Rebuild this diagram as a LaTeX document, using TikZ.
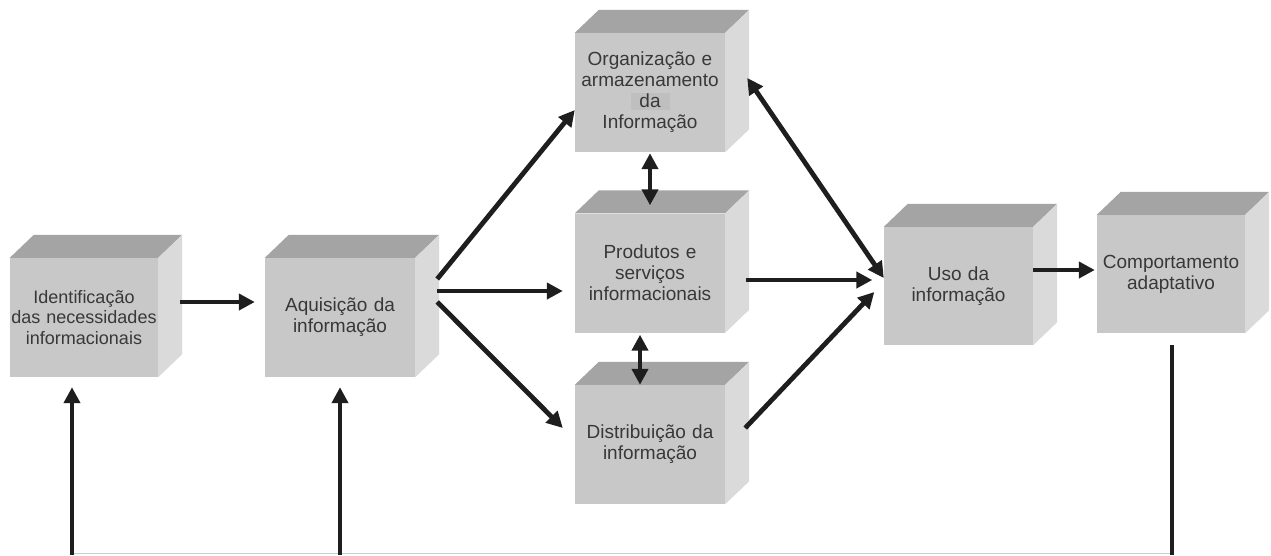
\documentclass[tikz,border=0pt]{standalone}
\usepackage{fontspec}
\setmainfont{Liberation Sans}
\usetikzlibrary{arrows.meta,calc}
\definecolor{frontc}{HTML}{C8C8C8}
\definecolor{topc}{HTML}{A4A4A4}
\definecolor{sidec}{HTML}{DADADA}
\definecolor{txtc}{HTML}{383838}
\definecolor{arrc}{HTML}{1E1E1E}
\definecolor{basec}{HTML}{CDCDCD}
\definecolor{dahl}{HTML}{BFBFBF}
\begin{document}
\begin{tikzpicture}[x=1pt,y=-1pt,
  cube/.style={rectangle, fill=frontc, minimum width=150pt, minimum height=119pt,
    inner sep=0pt, text width=140pt, align=center, text=txtc,
    font=\fontsize{19}{21}\selectfont},
  arr/.style={draw=arrc, line width=4.8pt, -{Triangle[length=16pt,width=16pt]}},
  darr/.style={draw=arrc, line width=4.8pt,
    {Triangle[length=16pt,width=16pt]}-{Triangle[length=16pt,width=16pt]}},
  baseline/.style={draw=basec, line width=1.4pt}]
\useasboundingbox (0,0) rectangle (1271,555);
\fill[white] (0,0) rectangle (1271,555);

\node[cube, minimum width=148pt, font=\fontsize{18}{20.5}\selectfont] (b1) at (84,317.5) {Identificação\\\makebox[0pt][c]{das necessidades}\\informacionais};
\node[cube] (b2) at (340,317.5) {Aquisição da\\informação};
\node[cube] (b3) at (650,92.5) {Organização e\\armazenamento\\{\setlength{\fboxsep}{1.5pt}\colorbox{dahl}{\makebox[36pt]{da}}}\\Informação};
\node[cube] (b4) at (650,273) {Produtos e\\serviços\\informacionais};
\node[cube] (b5) at (650,444.5) {Distribuição da\\informação};
\node[cube, minimum width=149pt, minimum height=118pt] (b6) at (958.5,286) {Uso da\\informação};
\node[cube, minimum width=148pt, minimum height=118pt] (b7) at (1171,274) {Comportamento\\adaptativo};

\foreach \n in {b1,b2,b3,b4,b5,b6,b7}{
  \fill[topc] (\n.north west) -- ([shift={(24,-23)}]\n.north west)
    -- ([shift={(24,-23)}]\n.north east) -- (\n.north east) -- cycle;
  \fill[sidec] (\n.north east) -- ([shift={(24,-23)}]\n.north east)
    -- ([shift={(24,-23)}]\n.south east) -- (\n.south east) -- cycle;
}

% connectors
\draw[arr] ([shift={(22,-15.5)}]b1.east) -- ([shift={(-10,-15.5)}]b2.west);
\draw[arr] ([shift={(22,-38.5)}]b2.east) -- ([shift={(0,17.5)}]b3.west);
\draw[arr] ([shift={(22,-26.5)}]b2.east) -- ([shift={(-12,18)}]b4.west);
\draw[arr] ([shift={(22,-15.5)}]b2.east) -- ([shift={(-12,-16.5)}]b5.west);
\draw[darr] ([shift={(0,1)}]b3.south) -- ([shift={(0,-8)}]b4.north);
\draw[darr] ([shift={(-10,2)}]b4.south) -- ([shift={(-10,0)}]b5.north);
\draw[darr] ([shift={(22,-14.5)}]b3.east) -- ([shift={(0,-8)}]b6.west);
\draw[arr] ([shift={(21,7)}]b4.east) -- ([shift={(-11.5,-6)}]b6.west);
\draw[arr] ([shift={(20,-16.5)}]b5.east) -- ([shift={(-9.5,6)}]b6.west);
\draw[arr] ([shift={(0,-16)}]b6.east) -- ([shift={(-2,-4)}]b7.west);

% feedback loop
\coordinate (fr) at (1172,555);
\coordinate (f1) at (72,555);
\coordinate (f2) at (340,555);
\coordinate (br) at (1172,553.5);
\coordinate (bl) at (72,553.5);
\draw[baseline] (bl) -- (br);
\draw[draw=arrc, line width=4.8pt] ([shift={(1,12)}]b7.south) -- (fr);
\draw[arr] (f1) -- ([shift={(-12,10)}]b1.south);
\draw[arr] (f2) -- ([shift={(0,10)}]b2.south);
\end{tikzpicture}
\end{document}
